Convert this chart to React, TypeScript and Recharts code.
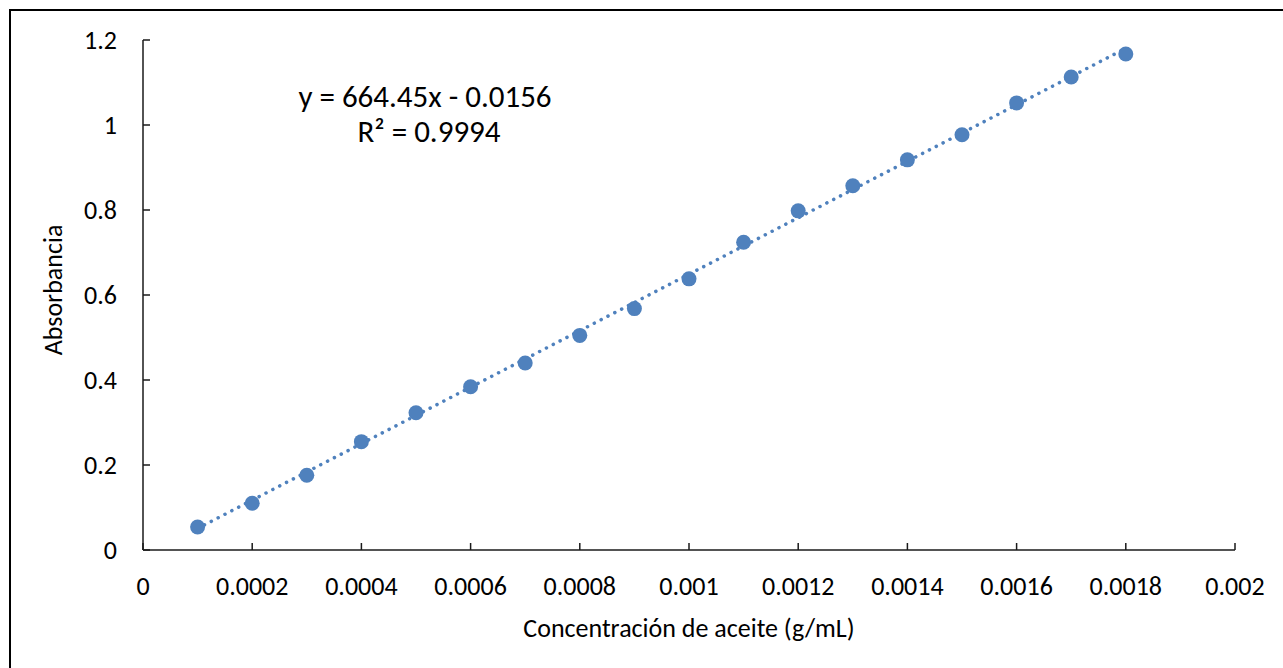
import React from 'react';
import { ComposedChart, Scatter, XAxis, YAxis } from 'recharts';

const concentrations = [0.0001, 0.0002, 0.0003, 0.0004, 0.0005, 0.0006, 0.0007, 0.0008, 0.0009, 0.001, 0.0011, 0.0012, 0.0013, 0.0014, 0.0015, 0.0016, 0.0017, 0.0018];
const absorbances = [0.054, 0.11, 0.176, 0.255, 0.323, 0.384, 0.44, 0.505, 0.568, 0.638, 0.724, 0.798, 0.857, 0.918, 0.977, 1.052, 1.113, 1.167];
const trendX = [0.0001, 0.0018];
const trendY = [0.0508, 1.1804];
const xTicks = [0, 0.0002, 0.0004, 0.0006, 0.0008, 0.001, 0.0012, 0.0014, 0.0016, 0.0018, 0.002];
const yTicks = [0, 0.2, 0.4, 0.6, 0.8, 1, 1.2];
const equationText = 'y = 664.45x - 0.0156';
const r2Text = 'R² = 0.9994';
const xTitle = 'Concentración de aceite (g/mL)';
const yTitle = 'Absorbancia';

const points = concentrations.map((x, i) => ({ x, y: absorbances[i] }));
const trend = trendX.map((x, i) => ({ x, y: trendY[i] }));

const FONT = 'Carlito, Calibri, Lato, "Open Sans", sans-serif';
const BLUE = '#4F81BD';
const AXIS = '#1a1a1a';

const fmt = (v: number) => {
  if (v === 0) return '0';
  return String(Number(v.toPrecision(6)));
};

const XTick = (props: any) => {
  const { x, y, payload } = props;
  return (
    <g>
      <line x1={x} y1={y} x2={x} y2={y - 7} stroke={AXIS} strokeWidth={1.5} />
      <text x={x} y={y + 45} textAnchor="middle" fontFamily={FONT} fontSize={26} fill="#000">
        {fmt(payload.value)}
      </text>
    </g>
  );
};

const YTick = (props: any) => {
  const { x, y, payload } = props;
  return (
    <g>
      <line x1={x} y1={y} x2={x + 7} y2={y} stroke={AXIS} strokeWidth={1.5} />
      <text x={x - 26} y={y + 8.5} textAnchor="end" fontFamily={FONT} fontSize={26} fill="#000">
        {fmt(payload.value)}
      </text>
    </g>
  );
};

const Marker = (props: any) => {
  const { cx, cy } = props;
  if (cx == null || cy == null) return null;
  return <circle cx={cx} cy={cy} r={7.5} fill={BLUE} />;
};

const NoShape = () => null;

export default function App() {
  return (
    <div style={{ position: 'fixed', left: 0, top: 0, width: 1283, height: 668, overflow: 'hidden', background: '#fff' }}>
      <div style={{ position: 'absolute', left: 9, top: 9, width: 1400, height: 800, border: '2.5px solid #000', boxSizing: 'border-box' }} />
      <div style={{ position: 'absolute', left: 0, top: 0 }}>
        <ComposedChart width={1283} height={668} margin={{ top: 40, right: 48, bottom: 58, left: 10 }}>
          <XAxis
            type="number"
            dataKey="x"
            domain={[0, 0.002]}
            ticks={xTicks}
            interval={0}
            allowDataOverflow
            height={60}
            tickSize={0}
            tickMargin={0}
            tick={<XTick />}
            axisLine={{ stroke: AXIS, strokeWidth: 1.5 }}
            tickLine={false}
          />
          <YAxis
            type="number"
            dataKey="y"
            domain={[0, 1.2]}
            ticks={yTicks}
            interval={0}
            allowDataOverflow
            width={133}
            tickSize={0}
            tickMargin={0}
            tick={<YTick />}
            axisLine={{ stroke: AXIS, strokeWidth: 1.5 }}
            tickLine={false}
          />
          <Scatter
            data={trend}
            shape={<NoShape />}
            line={{ stroke: BLUE, strokeWidth: 3.5, strokeDasharray: '0.1 7.6', strokeLinecap: 'round' }}
            lineType="joint"
            isAnimationActive={false}
          />
          <Scatter data={points} shape={<Marker />} isAnimationActive={false} />
        </ComposedChart>
      </div>
      <div style={{ position: 'absolute', left: 0, top: 0, width: 1283, height: 668, pointerEvents: 'none' }}>
        <svg width={1283} height={668}>
          <text x={425} y={107} textAnchor="middle" fontFamily={FONT} fontSize={31} fill="#000">{equationText}</text>
          <text x={429} y={142} textAnchor="middle" fontFamily={FONT} fontSize={31} fill="#000">{r2Text}</text>
          <text x={689} y={637} textAnchor="middle" fontFamily={FONT} fontSize={26} fill="#000">{xTitle}</text>
          <text x={62} y={290} textAnchor="middle" fontFamily={FONT} fontSize={26} fill="#000" transform="rotate(-90, 62, 290)">{yTitle}</text>
        </svg>
      </div>
    </div>
  );
}
